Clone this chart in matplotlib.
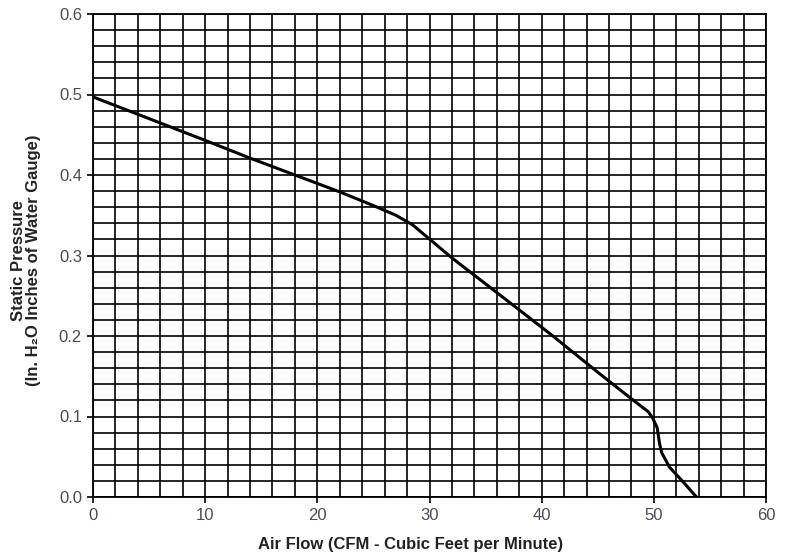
import matplotlib
matplotlib.use("Agg")
import matplotlib.pyplot as plt
import numpy as np

air_flow = [0, 5, 10, 14, 18, 22, 25, 27, 28.5, 32, 36, 41, 45, 48, 49.5, 49.9,
            50.3, 50.5, 50.7, 51.4, 52.6, 53.8]
pressure = [0.497, 0.470, 0.443, 0.421, 0.400, 0.379, 0.362, 0.350, 0.338, 0.297,
            0.254, 0.200, 0.155, 0.122, 0.106, 0.098, 0.086, 0.067, 0.055, 0.037,
            0.019, 0.0]

x_ticks = [0, 10, 20, 30, 40, 50, 60]
y_ticks = [0.0, 0.1, 0.2, 0.3, 0.4, 0.5, 0.6]


def main():
    plt.rcParams['font.family'] = ['Liberation Sans', 'DejaVu Sans']
    fig = plt.figure(figsize=(7.86, 5.57), dpi=100)
    ax = fig.add_axes([93 / 786, 1 - 497 / 557, 673 / 786, 483 / 557])

    ax.set_xlim(0, 60)
    ax.set_ylim(0, 0.6)
    ax.set_xticks(np.arange(0, 61, 2), minor=True)
    ax.set_yticks(np.arange(0, 0.601, 0.02), minor=True)
    ax.set_xticks(x_ticks)
    ax.set_yticks(y_ticks)
    ax.set_xticklabels([str(t) for t in x_ticks])
    ax.set_yticklabels(["%.1f" % t for t in y_ticks])
    ax.tick_params(which="minor", length=0)
    ax.tick_params(which="major", length=4, width=1.2, labelsize=12,
                   labelcolor="#4a4a58", pad=4)
    ax.grid(which="both", color="black", linewidth=1.2)
    ax.set_axisbelow(True)
    for s in ax.spines.values():
        s.set_linewidth(1.3)

    ax.plot(air_flow, pressure, color="black", linewidth=2.2, zorder=3,
            solid_joinstyle="round")

    ax.set_xlabel("Air Flow (CFM - Cubic Feet per Minute)", fontsize=12,
                  fontweight="bold", color="#222222")
    ax.xaxis.set_label_coords(0.472, -0.083)
    ax.set_ylabel("Static Pressure\n(In. H\u2082O Inches of Water Gauge)",
                  fontsize=12, fontweight="bold", color="#222222",
                  linespacing=1.0)
    ax.yaxis.set_label_coords(-0.077, 0.49)

    fig.savefig("out.png", dpi=100)


if __name__ == "__main__":
    main()
